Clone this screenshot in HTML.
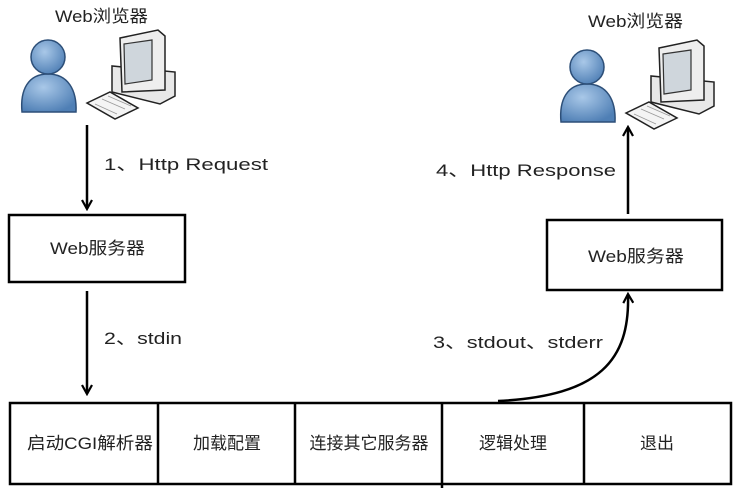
<!DOCTYPE html>
<html><head><meta charset="utf-8"><style>
body{margin:0;background:#fff;}
svg{display:block;}
text{font-family:"Liberation Sans","Noto Sans CJK SC",sans-serif;fill:#222;}
</style></head><body>
<svg width="742" height="491" viewBox="0 0 742 491" xmlns="http://www.w3.org/2000/svg">
<defs>
<radialGradient id="bl" cx="0.4" cy="0.35" r="0.7"><stop offset="0" stop-color="#a9c8e8"/><stop offset="1" stop-color="#4f7fb5"/></radialGradient>
<marker id="ah" viewBox="0 0 12 12" refX="10" refY="6" markerWidth="12" markerHeight="12" markerUnits="userSpaceOnUse" orient="auto"><path d="M1,1 L10,6 L1,11" fill="none" stroke="#000" stroke-width="2.2"/></marker>
<g id="icon">
  <path d="M22,112 C20,90 28,74 48,74 C68,74 77,90 76,112 Z" fill="url(#bl)" stroke="#2d4f78" stroke-width="1.5"/>
  <circle cx="48" cy="57" r="17" fill="url(#bl)" stroke="#2d4f78" stroke-width="1.5"/>
  <path d="M112,66 L112,92 L160,104 L175,96 L175,72 Z" fill="#e8e8e8" stroke="#222" stroke-width="1.5"/>
  <path d="M120,38 L158,30 L165,36 L165,90 L122,92 Z" fill="#eee" stroke="#222" stroke-width="1.5"/>
  <path d="M124,44 L152,40 L152,80 L125,84 Z" fill="#cfd6dc" stroke="#333" stroke-width="1.2"/>
  <path d="M87,103 L110,92 L138,108 L115,119 Z" fill="#f4f4f4" stroke="#222" stroke-width="1.5"/>
  <path d="M95,104 L117,114 M102,99 L125,109 M108,96 L131,106" stroke="#999" stroke-width="0.8"/>
</g>
</defs>

<text x="55" y="22" font-size="17" textLength="93" lengthAdjust="spacingAndGlyphs">Web浏览器</text>
<use href="#icon"/>
<text x="588" y="27" font-size="17" textLength="95" lengthAdjust="spacingAndGlyphs">Web浏览器</text>
<use href="#icon" transform="translate(539,10)"/>

<line x1="87" y1="125" x2="87" y2="209" stroke="#000" stroke-width="2.5" marker-end="url(#ah)"/>
<text x="104" y="170" font-size="17" textLength="164" lengthAdjust="spacingAndGlyphs">1、Http Request</text>

<rect x="9" y="215" width="176" height="67" fill="#fff" stroke="#000" stroke-width="2.5"/>
<text x="50" y="254" font-size="17" textLength="95" lengthAdjust="spacingAndGlyphs">Web服务器</text>

<line x1="87" y1="291" x2="87" y2="394" stroke="#000" stroke-width="2.5" marker-end="url(#ah)"/>
<text x="104" y="344" font-size="17" textLength="78" lengthAdjust="spacingAndGlyphs">2、stdin</text>

<line x1="628" y1="214" x2="628" y2="127" stroke="#000" stroke-width="2.5" marker-end="url(#ah)"/>
<text x="436" y="176" font-size="17" textLength="180" lengthAdjust="spacingAndGlyphs">4、Http Response</text>

<rect x="547" y="220" width="175" height="70" fill="#fff" stroke="#000" stroke-width="2.5"/>
<text x="588" y="262" font-size="17" textLength="96" lengthAdjust="spacingAndGlyphs">Web服务器</text>

<path d="M498,401 C600,396 630,360 628,294" fill="none" stroke="#000" stroke-width="2.5" marker-end="url(#ah)"/>
<text x="433" y="348" font-size="17" textLength="170" lengthAdjust="spacingAndGlyphs">3、stdout、stderr</text>

<rect x="10" y="403" width="721" height="81" fill="#fff" stroke="#000" stroke-width="2.5"/>
<line x1="158" y1="403" x2="158" y2="484" stroke="#000" stroke-width="2.5"/>
<line x1="295" y1="403" x2="295" y2="484" stroke="#000" stroke-width="2.5"/>
<line x1="442" y1="403" x2="442" y2="488" stroke="#000" stroke-width="2.5"/>
<line x1="584" y1="403" x2="584" y2="484" stroke="#000" stroke-width="2.5"/>
<text x="27" y="449" font-size="17" textLength="126" lengthAdjust="spacingAndGlyphs">启动CGI解析器</text>
<text x="227" y="449" font-size="17" text-anchor="middle">加载配置</text>
<text x="369" y="449" font-size="17" text-anchor="middle">连接其它服务器</text>
<text x="513" y="449" font-size="17" text-anchor="middle">逻辑处理</text>
<text x="657" y="449" font-size="17" text-anchor="middle">退出</text>
</svg>
</body></html>
